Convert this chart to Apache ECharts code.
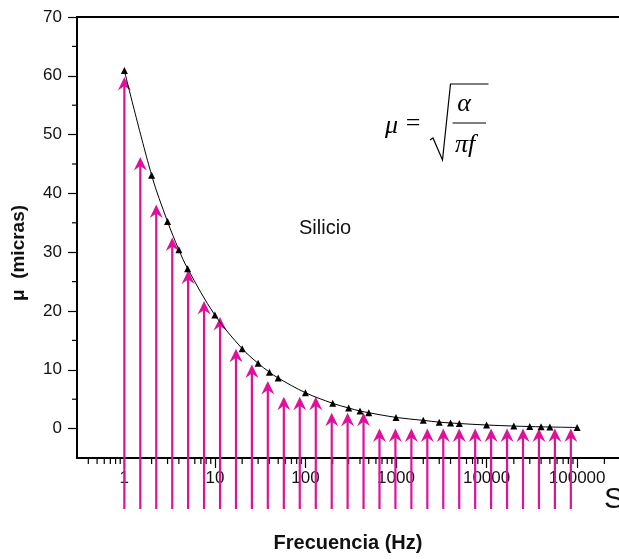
<!DOCTYPE html>
<html>
<head>
<meta charset="utf-8">
<script src="https://cdn.jsdelivr.net/npm/echarts@6/dist/echarts.min.js"></script>
<style>
  html, body { margin: 0; padding: 0; background: #fff; }
  #chart { width: 619px; height: 559px; }
</style>
</head>
<body>
<div id="chart"></div>
<script>
// Skin depth of silicon versus frequency
const freqHz = [1, 2, 3, 4, 5, 10, 20, 30, 40, 50, 100, 200, 300, 400, 500,
  1000, 2000, 3000, 4000, 5000, 10000, 20000, 30000, 40000, 50000, 100000];
const depthMicras = [60.9, 43.1, 35.2, 30.4, 27.2, 19.3, 13.6, 11.1, 9.6, 8.6, 6.1, 4.3, 3.5, 3.0, 2.7,
  1.9, 1.4, 1.1, 0.96, 0.86, 0.61, 0.43, 0.35, 0.30, 0.27, 0.19];

// Penetration arrows
const arrowFreq = [1, 1.5, 2.25, 3.38, 5.06, 7.59, 11.4, 17.1, 25.6, 38.4, 57.7, 86.5, 130, 195, 292,
  438, 657, 985, 1478, 2217, 3325, 4988, 7482, 11223, 16834, 25251, 37877, 56815, 85223];
const arrowDepth = [59.8, 46.2, 38.1, 32.5, 26.9, 21.7, 19.0, 13.6, 10.9, 8.1, 5.4, 5.4, 5.4, 2.7, 2.7,
  2.7, 0, 0, 0, 0, 0, 0, 0, 0, 0, 0, 0, 0, 0];

// Axis ticks
const xDecadeLabels = [1, 10, 100, 1000, 10000, 100000];
const xMinorTicks = [0.4, 0.5, 0.6, 0.7, 0.8, 0.9,
  2, 3, 4, 5, 6, 7, 8, 9,
  20, 30, 40, 50, 60, 70, 80, 90,
  200, 300, 400, 500, 600, 700, 800, 900,
  2000, 3000, 4000, 5000, 6000, 7000, 8000, 9000,
  20000, 30000, 40000, 50000, 60000, 70000, 80000, 90000,
  200000];
const yMinorTicks = [5, 15, 25, 35, 45, 55, 65];

const X_MIN = 0.3, X_MAX = 290000;
const Y_MIN = -5, Y_MAX = 70;

const MAGENTA = '#DE1299';
const SANS = '"Liberation Sans", Arial, Helvetica, sans-serif';
const SERIF = '"Liberation Serif", "Times New Roman", serif';

const chart = echarts.init(document.getElementById('chart'), null, { renderer: 'canvas' });

function tickRender(horizontal) {
  return function (params, api) {
    if (horizontal) {
      const p = api.coord([api.value(0), Y_MIN]);
      return { type: 'line', shape: { x1: p[0], y1: p[1], x2: p[0], y2: p[1] + 6 },
        style: { stroke: '#000', lineWidth: 1.2 } };
    }
    const p = api.coord([X_MIN, api.value(1)]);
    return { type: 'line', shape: { x1: p[0] - 5, y1: p[1], x2: p[0], y2: p[1] },
      style: { stroke: '#000', lineWidth: 1.2 } };
  };
}

const option = {
  animation: false,
  backgroundColor: '#fff',
  grid: { left: 77, top: 17, right: 0, bottom: 101, containLabel: false },
  xAxis: [{
    type: 'log',
    logBase: 10,
    min: X_MIN,
    max: X_MAX,
    axisLine: { show: true, onZero: false, lineStyle: { color: '#000', width: 2 } },
    axisTick: { show: true, length: 10, lineStyle: { color: '#000', width: 1.2 } },
    splitLine: { show: false },
    minorTick: { show: false },
    axisLabel: {
      margin: 12,
      fontSize: 17,
      fontFamily: SANS,
      color: '#111',
      showMinLabel: false,
      showMaxLabel: false,
      formatter: v => (xDecadeLabels.indexOf(Math.round(v)) >= 0 && Math.abs(v - Math.round(v)) < 1e-6) ? String(Math.round(v)) : ''
    },
    name: 'Frecuencia (Hz)',
    nameLocation: 'middle',
    nameGap: 75,
    nameTextStyle: { fontSize: 20, fontWeight: 'bold', fontFamily: SANS, color: '#111' }
  }, {
    type: 'value',
    position: 'top',
    min: 0, max: 1,
    axisLine: { show: true, onZero: false, lineStyle: { color: '#000', width: 2 } },
    axisTick: { show: false },
    axisLabel: { show: false },
    splitLine: { show: false }
  }],
  yAxis: {
    type: 'value',
    min: Y_MIN,
    max: Y_MAX,
    splitNumber: 8,
    minInterval: 10,
    maxInterval: 10,
    axisLine: { show: true, onZero: false, lineStyle: { color: '#000', width: 2 } },
    axisTick: { show: true, length: 9, lineStyle: { color: '#000', width: 1.2 } },
    splitLine: { show: false },
    axisLabel: {
      margin: 15,
      fontSize: 17,
      fontFamily: SANS,
      color: '#111',
      showMinLabel: false,
      formatter: v => (v >= 0 && v % 10 === 0) ? String(v) : ''
    }
  },
  series: [
    {
      name: 'xMinor',
      type: 'custom',
      silent: true,
      clip: false,
      renderItem: tickRender(true),
      data: xMinorTicks.map(v => [v, Y_MIN]),
      z: 3
    },
    {
      name: 'yMinor',
      type: 'custom',
      silent: true,
      clip: false,
      renderItem: tickRender(false),
      data: yMinorTicks.map(v => [X_MIN, v]),
      z: 3
    },
    {
      name: 'arrows',
      type: 'custom',
      silent: true,
      clip: false,
      renderItem: function (params, api) {
        const tip = api.coord([api.value(0), api.value(1)]);
        const base = api.coord([api.value(0), Y_MIN]);
        const x = tip[0], ty = tip[1];
        const bottom = base[1] + 51;
        return {
          type: 'group',
          children: [
            { type: 'line', shape: { x1: x, y1: bottom, x2: x, y2: ty + 8 },
              style: { stroke: MAGENTA, lineWidth: 2.2 } },
            { type: 'polygon', shape: { points: [[x, ty], [x - 6.5, ty + 13.5], [x, ty + 9], [x + 6.5, ty + 13.5]] },
              style: { fill: MAGENTA } }
          ]
        };
      },
      data: arrowFreq.map((f, i) => [f, arrowDepth[i]]),
      z: 4
    },
    {
      name: 'Silicio',
      type: 'line',
      data: freqHz.map((f, i) => [f, depthMicras[i]]),
      smooth: 0.35,
      symbol: 'triangle',
      symbolSize: 7,
      itemStyle: { color: '#000' },
      lineStyle: { color: '#000', width: 1 },
      z: 5
    }
  ],
  graphic: [
    { type: 'text', x: 19, y: 253, rotation: Math.PI / 2,
      style: { text: 'μ  (micras)', fontSize: 19, fontWeight: 'bold', fontFamily: SANS, fill: '#111', align: 'center', verticalAlign: 'middle' } },
    { type: 'text', x: 299, y: 228, style: { text: 'Silicio', fontSize: 20, fontFamily: SANS, fill: '#111', verticalAlign: 'middle', align: 'left' } },
    { type: 'text', x: 385, y: 126, style: { text: 'μ', fontSize: 26, fontStyle: 'italic', fontFamily: SERIF, fill: '#000', verticalAlign: 'middle', align: 'left' } },
    { type: 'text', x: 413, y: 124, style: { text: '=', fontSize: 26, fontFamily: SERIF, fill: '#000', verticalAlign: 'middle', align: 'center' } },
    { type: 'polyline', shape: { points: [[430, 140], [433, 138], [442.5, 160], [450.5, 84], [488.5, 84]] },
      style: { stroke: '#000', lineWidth: 1.2, fill: null } },
    { type: 'text', x: 464, y: 104, style: { text: 'α', fontSize: 26, fontStyle: 'italic', fontFamily: SERIF, fill: '#000', verticalAlign: 'middle', align: 'center' } },
    { type: 'line', shape: { x1: 452.5, y1: 123, x2: 486, y2: 123 }, style: { stroke: '#000', lineWidth: 1 } },
    { type: 'text', x: 465, y: 145, style: { text: 'πf', fontSize: 26, fontStyle: 'italic', fontFamily: SERIF, fill: '#000', verticalAlign: 'middle', align: 'center' } },
    { type: 'text', x: 604, y: 500, style: { text: 'S', fontSize: 30, fontFamily: SANS, fill: '#111', verticalAlign: 'middle', align: 'left' } }
  ]
};

chart.setOption(option);
</script>
</body>
</html>
